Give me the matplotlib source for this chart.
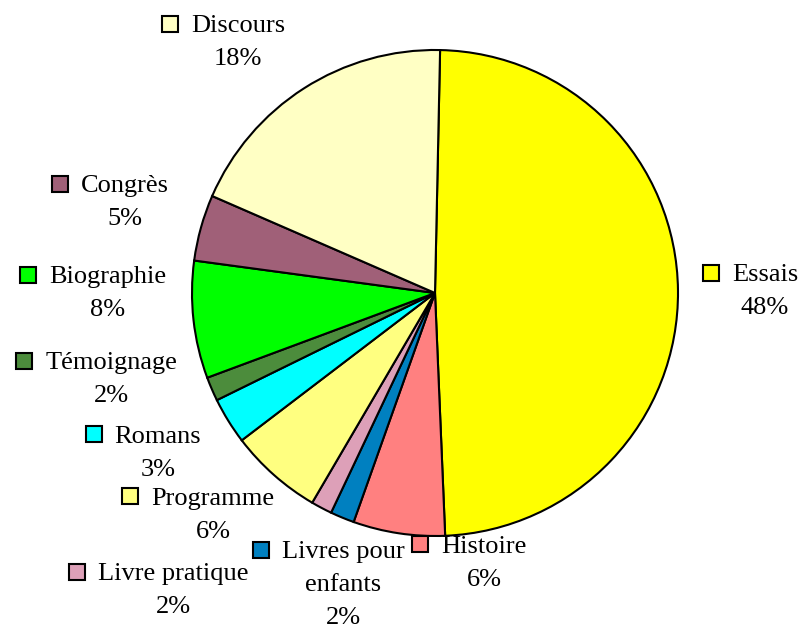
import matplotlib.pyplot as plt
import numpy as np

# categories clockwise from 12 o'clock
categories = ['Essais', 'Histoire', 'Livres pour\nenfants', 'Livre pratique', 'Programme',
              'Romans', 'Témoignage', 'Biographie', 'Congrès', 'Discours']
shares = [49.0, 6.1, 1.6, 1.4, 6.2, 3.1, 1.6, 7.8, 4.4, 18.8]
pct_labels = ['48%', '6%', '2%', '2%', '6%', '3%', '2%', '8%', '5%', '18%']
colors = ['#FFFF00', '#FF8080', '#0080C0', '#DDA0B8', '#FFFF80',
          '#00FFFF', '#4C8C3C', '#00FF00', '#A06078', '#FFFFC4']

# label anchors in pixels (name centre x, first line baseline y)
label_px = [(765, 281), (484, 553), (343, 558), (173, 580), (213, 505),
            (158, 443), (111, 369), (108, 283), (125, 192), (238, 32)]

W, H = 803, 630
cx, cy, r = 435, 293, 243

plt.rcParams['font.family'] = ['Liberation Serif', 'DejaVu Serif']

fig = plt.figure(figsize=(W / 100, H / 100), dpi=100)
ax = fig.add_axes([0, 0, 1, 1])
ax.pie(shares, colors=colors, startangle=88.8, counterclock=False,
       wedgeprops=dict(edgecolor='black', linewidth=1.5))
ax.set_xlim(-cx / r, (W - cx) / r)
ax.set_ylim(-(H - cy) / r, cy / r)
ax.axis('off')

def to_data(px, py):
    return (px - cx) / r, (cy - py) / r

fig.canvas.draw()
renderer = fig.canvas.get_renderer()
fs = 19
line_h = 33

for name, pct, col, (px, py) in zip(categories, pct_labels, colors, label_px):
    lines = name.split('\n')
    for i, ln in enumerate(lines):
        x, y = to_data(px, py + i * line_h)
        ax.text(x, y, ln, ha='center', va='baseline', fontsize=fs, zorder=5)
    x, y = to_data(px, py + len(lines) * line_h)
    ax.text(x, y, pct, ha='center', va='baseline', fontsize=fs, zorder=5)
    # marker square at the left of the first line
    t = ax.text(0, 0, lines[0], fontsize=fs)
    w = t.get_window_extent(renderer).width
    t.remove()
    sx, sy = to_data(px - w / 2 - 21, py - 8.5)
    ax.plot(sx, sy, marker='s', markersize=11, markerfacecolor=col,
            markeredgecolor='black', markeredgewidth=1.5, zorder=6)

fig.savefig('out.png', dpi=100)
